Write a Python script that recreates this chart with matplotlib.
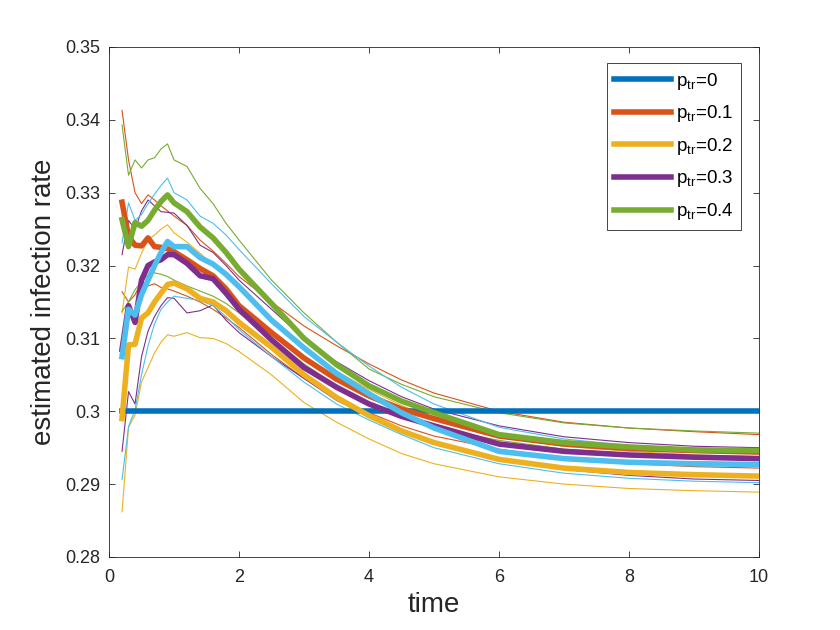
import matplotlib
matplotlib.use("Agg")
import matplotlib.pyplot as plt

plt.rcParams['font.family'] = ['Liberation Sans', 'DejaVu Sans']
plt.rcParams['mathtext.fontset'] = 'custom'
plt.rcParams['mathtext.rm'] = 'Liberation Sans'

# time grid
t = [0.2, 0.3, 0.4, 0.5, 0.6, 0.7, 0.8, 0.9, 1.0, 1.2, 1.4, 1.6, 1.8, 2.0,
     2.5, 3.0, 3.5, 4.0, 4.5, 5.0, 6.0, 7.0, 8.0, 9.0, 10.0]

# thick (mean) series
p0 = [0.3] * len(t)
p01 = [0.3287, 0.3240, 0.3228, 0.3227, 0.3238, 0.3226, 0.3225, 0.3223, 0.3219, 0.3208,
       0.3196, 0.3186, 0.3168, 0.3145, 0.3108, 0.3073, 0.3044, 0.3021, 0.3003, 0.2990,
       0.2966, 0.2955, 0.2949, 0.2946, 0.2944]
p02 = [0.2990, 0.3091, 0.3092, 0.3128, 0.3135, 0.3150, 0.3162, 0.3174, 0.3176, 0.3168,
       0.3155, 0.3150, 0.3138, 0.3122, 0.3088, 0.3050, 0.3019, 0.2994, 0.2973, 0.2957,
       0.2934, 0.2922, 0.2916, 0.2913, 0.2911]
p03 = [0.3085, 0.3145, 0.3122, 0.3180, 0.3200, 0.3205, 0.3208, 0.3215, 0.3215, 0.3203,
       0.3186, 0.3182, 0.3162, 0.3140, 0.3098, 0.3060, 0.3033, 0.3010, 0.2993, 0.2980,
       0.2955, 0.2945, 0.2940, 0.2937, 0.2935]
p04 = [0.3263, 0.3226, 0.3259, 0.3254, 0.3262, 0.3276, 0.3288, 0.3297, 0.3286, 0.3274,
       0.3253, 0.3238, 0.3218, 0.3195, 0.3148, 0.3100, 0.3064, 0.3035, 0.3014, 0.2998,
       0.2968, 0.2957, 0.2951, 0.2947, 0.2946]
p05 = [0.3075, 0.3140, 0.3132, 0.3160, 0.3180, 0.3200, 0.3218, 0.3233, 0.3226, 0.3226,
       0.3211, 0.3202, 0.3188, 0.3171, 0.3125, 0.3087, 0.3052, 0.3024, 0.2998, 0.2977,
       0.2945, 0.2935, 0.2930, 0.2928, 0.2927]

# thin (bound) series
p01_hi = [0.3413, 0.3345, 0.3300, 0.3285, 0.3297, 0.3290, 0.3282, 0.3275, 0.3268, 0.3255,
          0.3235, 0.3220, 0.3203, 0.3185, 0.3150, 0.3117, 0.3090, 0.3065, 0.3043, 0.3025,
          0.3000, 0.2985, 0.2977, 0.2972, 0.2968]
p01_lo = [0.3164, 0.3150, 0.3160, 0.3178, 0.3172, 0.3175, 0.3170, 0.3168, 0.3165, 0.3158,
          0.3150, 0.3140, 0.3128, 0.3115, 0.3078, 0.3045, 0.3018, 0.2998, 0.2980, 0.2966,
          0.2948, 0.2935, 0.2928, 0.2924, 0.2922]
p02_hi = [0.3135, 0.3198, 0.3195, 0.3217, 0.3235, 0.3242, 0.3250, 0.3256, 0.3245, 0.3232,
          0.3217, 0.3200, 0.3185, 0.3168, 0.3125, 0.3088, 0.3055, 0.3030, 0.3008, 0.2990,
          0.2965, 0.2952, 0.2945, 0.2940, 0.2938]
p02_lo = [0.2862, 0.2978, 0.2995, 0.3040, 0.3060, 0.3080, 0.3095, 0.3105, 0.3103, 0.3108,
          0.3101, 0.3100, 0.3093, 0.3082, 0.3050, 0.3012, 0.2985, 0.2962, 0.2942, 0.2928,
          0.2910, 0.2900, 0.2894, 0.2891, 0.2889]
p03_hi = [0.3215, 0.3262, 0.3250, 0.3275, 0.3290, 0.3282, 0.3274, 0.3273, 0.3272, 0.3255,
          0.3228, 0.3218, 0.3200, 0.3180, 0.3140, 0.3100, 0.3068, 0.3042, 0.3020, 0.3003,
          0.2980, 0.2965, 0.2957, 0.2952, 0.2950]
p03_lo = [0.2945, 0.3027, 0.3010, 0.3075, 0.3110, 0.3130, 0.3145, 0.3156, 0.3155, 0.3135,
          0.3138, 0.3146, 0.3125, 0.3108, 0.3075, 0.3045, 0.3015, 0.2993, 0.2973, 0.2957,
          0.2935, 0.2920, 0.2912, 0.2907, 0.2905]
p04_hi = [0.3393, 0.3324, 0.3345, 0.3334, 0.3345, 0.3348, 0.3360, 0.3367, 0.3345, 0.3336,
          0.3306, 0.3285, 0.3258, 0.3235, 0.3180, 0.3135, 0.3095, 0.3058, 0.3037, 0.3020,
          0.2998, 0.2984, 0.2977, 0.2973, 0.2970]
p04_lo = [0.3137, 0.3150, 0.3167, 0.3178, 0.3187, 0.3190, 0.3188, 0.3185, 0.3180, 0.3172,
          0.3165, 0.3158, 0.3148, 0.3135, 0.3100, 0.3065, 0.3035, 0.3010, 0.2992, 0.2978,
          0.2960, 0.2948, 0.2942, 0.2938, 0.2936]
p05_hi = [0.3231, 0.3286, 0.3262, 0.3270, 0.3285, 0.3298, 0.3310, 0.3320, 0.3300, 0.3290,
          0.3268, 0.3258, 0.3242, 0.3222, 0.3175, 0.3130, 0.3095, 0.3062, 0.3033, 0.3010,
          0.2978, 0.2962, 0.2953, 0.2947, 0.2944]
p05_lo = [0.2906, 0.2979, 0.3002, 0.3050, 0.3090, 0.3120, 0.3140, 0.3150, 0.3158, 0.3155,
          0.3152, 0.3145, 0.3130, 0.3112, 0.3075, 0.3040, 0.3010, 0.2988, 0.2968, 0.2950,
          0.2928, 0.2915, 0.2908, 0.2904, 0.2902]

legend_labels = [r'p$_{\mathrm{tr}}$=0', r'p$_{\mathrm{tr}}$=0.1', r'p$_{\mathrm{tr}}$=0.2',
                 r'p$_{\mathrm{tr}}$=0.3', r'p$_{\mathrm{tr}}$=0.4']

C_BLUE = '#0072BD'
C_ORANGE = '#D95319'
C_YELLOW = '#EDB120'
C_PURPLE = '#7E2F8E'
C_GREEN = '#77AC30'
C_LBLUE = '#4DBEEE'
C_AX = '#262626'

fig = plt.figure(figsize=(8.4, 6.3), dpi=100)
ax = fig.add_axes([0.1298, 0.1159, 0.7738, 0.8095])

thin_lw = 0.8
thick_lw = 4.0
for hi, lo, c in [(p01_hi, p01_lo, C_ORANGE), (p02_hi, p02_lo, C_YELLOW),
                  (p03_hi, p03_lo, C_PURPLE), (p04_hi, p04_lo, C_GREEN),
                  (p05_hi, p05_lo, C_LBLUE)]:
    ax.plot(t, hi, color=c, lw=thin_lw)
    ax.plot(t, lo, color=c, lw=thin_lw)

handles = []
for y, c in [(p0, C_BLUE), (p01, C_ORANGE), (p02, C_YELLOW), (p03, C_PURPLE), (p04, C_GREEN)]:
    h, = ax.plot(t, y, color=c, lw=thick_lw, solid_joinstyle='round')
    handles.append(h)
ax.plot(t, p05, color=C_LBLUE, lw=thick_lw, solid_joinstyle='round')

ax.set_xlim(0, 10)
ax.set_ylim(0.28, 0.35)
ax.set_xticks([0, 2, 4, 6, 8, 10])
ax.set_yticks([0.28, 0.29, 0.30, 0.31, 0.32, 0.33, 0.34, 0.35])
ax.set_yticklabels(['0.28', '0.29', '0.3', '0.31', '0.32', '0.33', '0.34', '0.35'])
ax.tick_params(direction='in', length=4.5, width=0.6, top=True, right=True,
               labelsize=13, colors=C_AX)
ax.tick_params(axis='x', pad=9)
ax.tick_params(axis='y', pad=6.5)
for s in ax.spines.values():
    s.set_linewidth(0.6)
    s.set_color(C_AX)

ax.set_xlabel('time', fontsize=20, color=C_AX, labelpad=4)
ax.set_ylabel('estimated infection rate', fontsize=20, color=C_AX, labelpad=6)

leg = ax.legend(handles, legend_labels, loc='upper right', fontsize=13.5,
                handlelength=3.05, handletextpad=0.25, labelspacing=0.62,
                borderaxespad=0.0, bbox_to_anchor=(0.9725, 0.9685),
                fancybox=False, framealpha=1,
                edgecolor=C_AX, borderpad=0.4)
leg.get_frame().set_linewidth(0.6)

fig.savefig('out.png', dpi=100)
